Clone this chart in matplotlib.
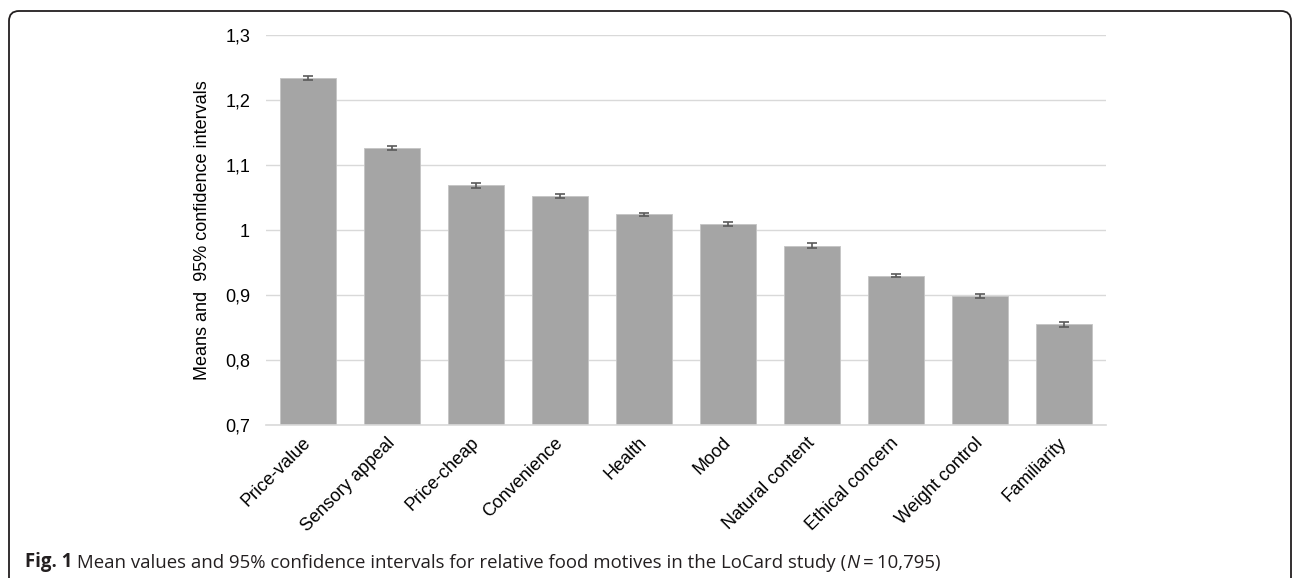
import numpy as np
import matplotlib
matplotlib.use("Agg")
import matplotlib.pyplot as plt
from matplotlib.patches import FancyBboxPatch
from matplotlib.transforms import IdentityTransform, ScaledTranslation

plt.rcParams['font.family'] = ['Liberation Sans', 'DejaVu Sans']

# relative food motives, means and 95% CI half-widths
motives = ['Price-value', 'Sensory appeal', 'Price-cheap', 'Convenience', 'Health',
           'Mood', 'Natural content', 'Ethical concern', 'Weight control', 'Familiarity']
means = [1.234, 1.126, 1.069, 1.052, 1.024, 1.009, 0.976, 0.930, 0.899, 0.855]
ci = [0.003, 0.003, 0.004, 0.003, 0.002, 0.003, 0.004, 0.003, 0.003, 0.004]
yticks = [0.7, 0.8, 0.9, 1.0, 1.1, 1.2, 1.3]
ytick_labels = ['0,7', '0,8', '0,9', '1', '1,1', '1,2', '1,3']

fig = plt.figure(figsize=(12.92, 5.78), dpi=100)
ax = fig.add_axes([0.2059, 0.2647, 0.6502, 0.6747])

x = np.arange(len(motives))
ax.bar(x, [m - 0.7 for m in means], bottom=0.7, width=0.66, color='#a5a5a5',
       edgecolor='#c4c4c4', linewidth=0.6, zorder=2)
ax.errorbar(x, means, yerr=ci, fmt='none', ecolor='#5a5a5a', elinewidth=1.2,
            capsize=3.5, capthick=1.2, zorder=3)

ax.set_xlim(-0.5, len(motives) - 0.5)
ax.set_ylim(0.7, 1.3)
ax.set_yticks(yticks)
ax.set_yticklabels(ytick_labels, fontsize=13)
ax.yaxis.grid(True, color='#d9d9d9', linewidth=1.0, zorder=0)
ax.set_axisbelow(True)
ax.set_xticks(x)
ax.set_xticklabels(motives, rotation=45, ha='right', va='center', rotation_mode='anchor',
                   fontsize=13)
# nudge the slanted labels a little to the right
shift = ScaledTranslation(5 / 100, 0, fig.dpi_scale_trans)
for lbl in ax.get_xticklabels():
    lbl.set_transform(lbl.get_transform() + shift)
ax.tick_params(axis='both', length=0)
ax.tick_params(axis='y', pad=11.5)
ax.tick_params(axis='x', pad=11)
for s in ['top', 'right', 'left']:
    ax.spines[s].set_visible(False)
ax.spines['bottom'].set_color('#d9d9d9')
ax.spines['bottom'].set_linewidth(1.2)
ax.set_ylabel('Means and  95% confidence intervals', fontsize=13, labelpad=10)

# rounded frame, open at the bottom and right edges
frame = FancyBboxPatch((9, -40), 1282, 578 - 11 + 40,
                       boxstyle='round,pad=0,rounding_size=10',
                       fill=False, edgecolor='#231f20', linewidth=1.3,
                       transform=IdentityTransform())
fig.add_artist(frame)

# caption
cap_font = ['Open Sans', 'DejaVu Sans']
cap_size = 13.4
t = fig.text(25 / 1292, 1 - 562 / 578, 'Fig. 1', fontsize=cap_size, fontweight='bold',
             family=cap_font, va='center', color='#231f20')
parts = [(' Mean values and 95% confidence intervals for relative food motives in the LoCard study (', 'normal'),
         ('N', 'italic'),
         ('\u2009=\u200910,795)', 'normal')]
for txt, style in parts:
    t = ax.annotate(txt, xy=(1, 0), xycoords=t, va='bottom', ha='left',
                    fontsize=cap_size, fontstyle=style, family=cap_font,
                    color='#231f20', annotation_clip=False)

fig.savefig('out.png', dpi=100)
